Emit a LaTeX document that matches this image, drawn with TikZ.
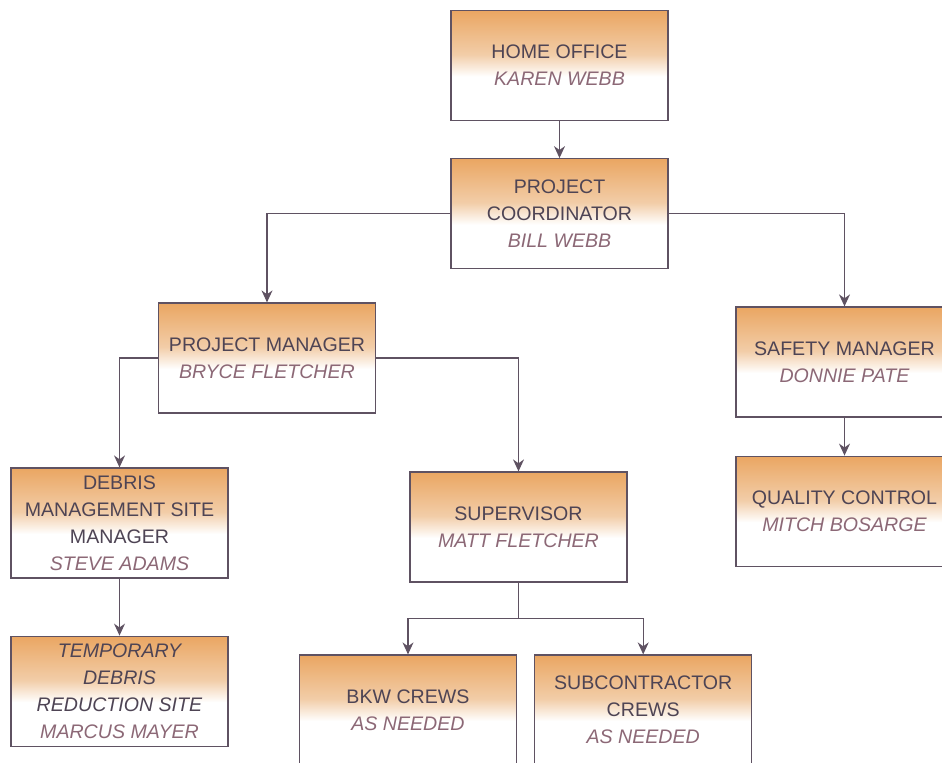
\documentclass[tikz,border=0pt]{standalone}
\usepackage{fontspec}
\setmainfont{Liberation Sans}
\usetikzlibrary{arrows.meta, positioning, calc}

\definecolor{boxtop}{RGB}{234,166,98}
\definecolor{boxmid}{RGB}{242,205,168}
\definecolor{boxline}{RGB}{95,82,98}
\definecolor{titletext}{RGB}{78,68,84}
\definecolor{nametext}{RGB}{140,104,118}

% orange at the top, white from a little below the middle
\pgfdeclareverticalshading{boxfade}{100bp}{color(0bp)=(white); color(45bp)=(white);
    color(55bp)=(boxmid); color(75bp)=(boxtop); color(100bp)=(boxtop)}

\newcommand{\who}[1]{{\itshape\color{nametext}#1}}

\begin{document}
\begin{tikzpicture}[
    x=0.5pt, y=-0.5pt,
    block/.style={rectangle, draw=boxline, line width=0.6pt, shading=boxfade,
                  minimum width=108.5pt, minimum height=55pt, inner sep=2pt,
                  align=center, text=titletext,
                  font=\fontsize{9.8}{13.5}\selectfont},
    arrow/.style={-{Stealth[length=6pt, width=5.5pt]}, draw=boxline, line width=0.6pt},
]
    \useasboundingbox (0,0) rectangle (942,763);
    \clip (0,0) rectangle (942,763);

    \node[block] (home)    at (559.5,65.5) {HOME OFFICE\\ \who{KAREN WEBB}};
    \node[block] (coord)   [below=18.5pt of home] {PROJECT\\ COORDINATOR\\ \who{BILL WEBB}};
    \node[block] (pm)      at (267,358)   {PROJECT MANAGER\\ \who{BRYCE FLETCHER}};
    \node[block] (safety)  at (844.5,362) {SAFETY MANAGER\\ \who{DONNIE PATE}};
    \node[block] (quality) [below=19pt of safety] {QUALITY CONTROL\\ \who{MITCH BOSARGE}};
    \node[block] (debris)  at (119.5,523) {DEBRIS\\ MANAGEMENT SITE\\ MANAGER\\ \who{STEVE ADAMS}};
    \node[block] (temp)    [below=28.5pt of debris]
        {\itshape TEMPORARY\\ \itshape DEBRIS\\ \itshape REDUCTION SITE\\ \who{MARCUS MAYER}};
    \node[block] (super)   at (518.5,527) {SUPERVISOR\\ \who{MATT FLETCHER}};
    \node[block] (bkw)     at (408,710)   {BKW CREWS\\ \who{AS NEEDED}};
    \node[block] (sub)     [right=8.5pt of bkw] {SUBCONTRACTOR\\ CREWS\\ \who{AS NEEDED}};

    \draw[arrow] (home.south) -- (home.south |- coord.north);
    \draw[arrow] (coord.west) -| (pm.north);
    \draw[arrow] (coord.east) -| (safety.north);
    \draw[arrow] (safety) -- (quality);
    \draw[arrow] (pm.west) -| (debris.north);
    \draw[arrow] (pm.east) -| (super.north);
    \draw[arrow] (debris) -- (temp);

    % split below the supervisor
    \coordinate (split) at ($(super.south)!0.5!(super.south |- bkw.north)$);
    \draw[arrow] (super.south) -- (split) -| (bkw.north);
    \draw[arrow] (split) -| (sub.north);
\end{tikzpicture}
\end{document}
